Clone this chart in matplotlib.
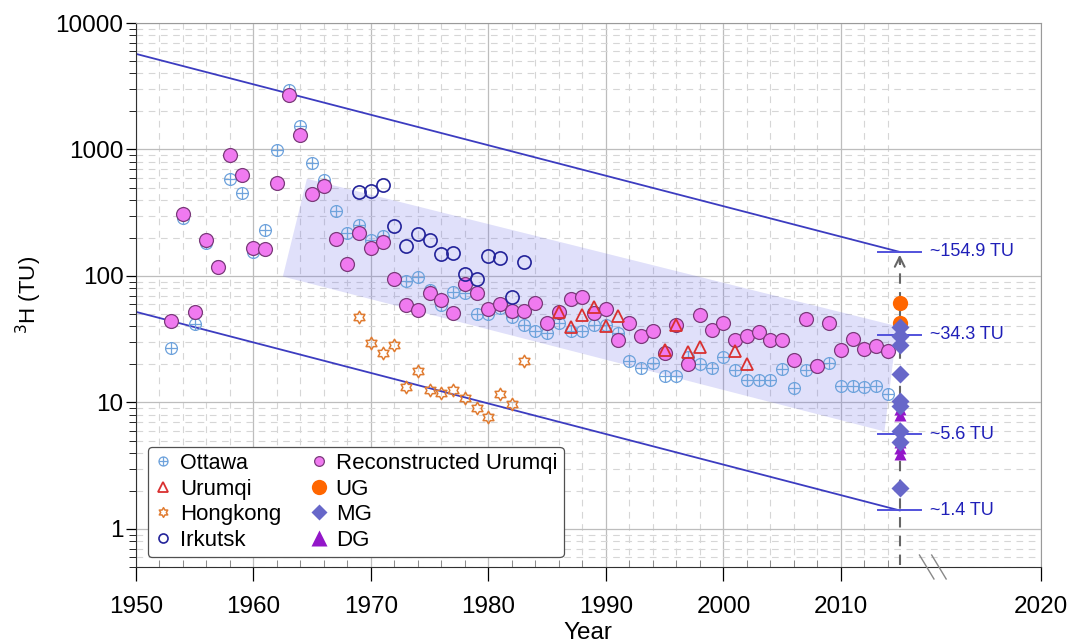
import matplotlib
matplotlib.use("Agg")
import matplotlib.pyplot as plt
from matplotlib.path import Path
from matplotlib.lines import Line2D
from matplotlib.patches import Polygon
from matplotlib.ticker import LogLocator, FixedLocator, NullFormatter

plt.rcParams['font.family'] = ['Liberation Sans', 'DejaVu Sans']

# ---------------- data ----------------
ottawa_years = [1953, 1954, 1955, 1956, 1957, 1958, 1959, 1960, 1961, 1962, 1963, 1964, 1965,
                1966, 1967, 1968, 1969, 1970, 1971, 1972, 1973, 1974, 1975, 1976, 1977, 1978,
                1979, 1980, 1981, 1982, 1983, 1984, 1985, 1986, 1987, 1988, 1989, 1990, 1991,
                1992, 1993, 1994, 1995, 1996, 1997, 1998, 1999, 2000, 2001, 2002, 2003, 2004,
                2005, 2006, 2007, 2008, 2009, 2010, 2011, 2012, 2013, 2014]
ottawa_tu = [27, 285, 42, 182, 120, 587, 453, 155, 230, 995, 2960, 1530, 781,
             569, 327, 219, 255, 194, 208, 95, 92, 98, 77, 59, 75, 74,
             50, 50, 56, 47, 40.6, 36.6, 35.6, 42.6, 37, 37, 41, 41, 35.6,
             21.2, 18.8, 20.4, 16.1, 16.3, 23, 20, 18.6, 22.8, 18, 15, 15, 15,
             18.5, 12.9, 18.2, 19.6, 20.6, 13.6, 13.5, 13.3, 13.4, 11.7]

recon_years = ottawa_years
recon_tu = [44, 307, 52, 194, 117, 897, 623, 166, 163, 543, 2700, 1290, 447,
            510, 197, 125, 219, 166, 185, 94, 59, 54, 73, 65, 51, 87,
            73, 55, 60, 53, 53, 61, 42.6, 52, 66, 68, 51, 55, 31,
            42.6, 33.4, 37, 24.7, 41.3, 20, 48.7, 37.3, 42.6, 31, 33.4, 36.2, 31,
            31, 21.6, 45.9, 19.4, 42.6, 26.2, 31.9, 26.5, 27.9, 25.5]

urumqi_years = [1986, 1987, 1988, 1989, 1990, 1991, 1995, 1996, 1997, 1998, 2001, 2002]
urumqi_tu = [51.7, 39.4, 49, 56.6, 40, 48, 26.2, 41, 25, 27.4, 25.5, 20.2]

irkutsk_years = [1969, 1970, 1971, 1972, 1973, 1974, 1975, 1976, 1977, 1978, 1979, 1980,
                 1981, 1982, 1983]
irkutsk_tu = [458, 467, 520, 247, 174, 216, 191, 150, 151, 104, 94, 143, 138, 68, 128]

hongkong_years = [1969, 1970, 1971, 1972, 1973, 1974, 1975, 1976, 1977, 1978, 1979, 1980,
                  1981, 1982, 1983]
hongkong_tu = [47.5, 29.6, 24.7, 28.4, 13.3, 17.7, 12.5, 11.8, 12.5, 10.9, 9.0, 7.7,
               11.6, 9.8, 21.2]

sample_year = 2015
ug_tu = [60.6, 42.7]
mg_tu = [39.6, 33.4, 28.5, 16.7, 10.3, 9.3, 6.0, 4.9, 2.1]
dg_tu = [8.8, 7.9, 4.9, 4.4, 3.9]

# decay lines (start year/value, end year/value)
decay_upper_years = [1950, 2015]
decay_upper_tu = [5700, 154.9]
decay_lower_years = [1950, 2015]
decay_lower_tu = [52, 1.4]

# shaded band corners
band_years = [1964.55, 2014.8, 2013.7, 1962.5]
band_tu = [587, 40, 5.9, 99]

ref_levels = [154.9, 34.3, 5.6, 1.4]
ref_labels = ['~154.9 TU', '~34.3 TU', '~5.6 TU', '~1.4 TU']

xtick_labels = ['1950', '1960', '1970', '1980', '1990', '2000', '2010', '2020']

# ---------------- styles ----------------
c_ott = '#6fa3dc'
c_uru = '#d93030'
c_hk = '#e07b30'
c_irk = '#23239a'
c_rec_face = '#f07af0'
c_rec_edge = '#7a3a7a'
c_ug = '#ff6600'
c_mg = '#6767c9'
c_dg = '#9316c9'
c_line = '#3c3cc0'
c_ann = '#1f1fb8'

circ = Path.unit_circle()
oplus = Path(list(circ.vertices) + [(-1, 0), (1, 0), (0, -1), (0, 1)],
             list(circ.codes) + [Path.MOVETO, Path.LINETO, Path.MOVETO, Path.LINETO])
hexagram = Path.unit_regular_star(6, 0.577)

fig = plt.figure(figsize=(10.74, 6.44), dpi=100)
ax = fig.add_axes([136 / 1074, 77 / 644, 904.7 / 1074, 544 / 644])
ax.set_yscale('log')
x_right = 2027.0
ax.set_xlim(1950, x_right)
ax.set_ylim(0.5, 10000)

# grids
ax.set_xticks([1950, 1960, 1970, 1980, 1990, 2000, 2010, x_right])
ax.set_xticklabels(xtick_labels)
ax.xaxis.set_minor_locator(FixedLocator(list(range(1952, 2015, 2))))
ax.yaxis.set_minor_locator(LogLocator(base=10, subs=range(2, 10), numticks=20))
ax.yaxis.set_minor_formatter(NullFormatter())
ax.set_yticks([1, 10, 100, 1000, 10000])
ax.set_yticklabels(['1', '10', '100', '1000', '10000'])
ax.grid(which='major', color='#bdbdbd', lw=0.9, ls='-')
ax.grid(which='minor', color='#d6d6d6', lw=0.8, ls=(0, (6, 5)))
ax.set_axisbelow(True)

ax.tick_params(axis='x', which='major', direction='out', length=10, width=0.9, labelsize=17.5, pad=11)
ax.tick_params(axis='x', which='minor', direction='in', length=5, width=0.6, color='#808080')
ax.tick_params(axis='y', which='major', direction='out', length=7, width=0.9, labelsize=17.5, pad=2)
ax.tick_params(axis='y', which='minor', direction='out', length=5, width=0.6)
for s in ['top', 'right']:
    ax.spines[s].set_color('#9a9a9a')
for s in ['left', 'bottom']:
    ax.spines[s].set_color('#303030')

# band
ax.add_patch(Polygon(list(zip(band_years, band_tu)), closed=True,
                     facecolor='#6464e6', alpha=0.2, edgecolor='none', zorder=1))

# decay lines
ax.plot(decay_upper_years, decay_upper_tu, color=c_line, lw=1.3, zorder=2)
ax.plot(decay_lower_years, decay_lower_tu, color=c_line, lw=1.3, zorder=2)

# vertical dashed arrow
ax.plot([sample_year, sample_year], [0.52, 140], color='#666666', lw=1.5,
        ls=(0, (5, 4)), zorder=2)
ax.annotate('', xy=(sample_year, ref_levels[0]), xytext=(sample_year, 120),
            arrowprops=dict(arrowstyle='->,head_length=0.7,head_width=0.35',
                            color='#666666', lw=1.5), zorder=3)

# reference levels
for lev, lab in zip(ref_levels, ref_labels):
    ax.plot([sample_year - 1.85, sample_year + 1.85], [lev, lev], color='#5252dc', lw=1.4, zorder=3)
    ax.text(sample_year + 2.6, lev, lab, color=c_ann, fontsize=13, va='center', ha='left')

# data
ax.plot(ottawa_years, ottawa_tu, ls='none', marker=oplus, ms=8.5, mfc='none', mec=c_ott,
        mew=0.9, zorder=4)
ax.plot(recon_years, recon_tu, ls='none', marker='o', ms=10, mfc=c_rec_face, mec=c_rec_edge,
        mew=0.9, zorder=5)
ax.plot(urumqi_years, urumqi_tu, ls='none', marker='^', ms=8, mfc='none', mec=c_uru,
        mew=1.3, zorder=6)
ax.plot(hongkong_years, hongkong_tu, ls='none', marker=hexagram, ms=9, mfc='none', mec=c_hk,
        mew=1.1, zorder=6)
ax.plot(irkutsk_years, irkutsk_tu, ls='none', marker='o', ms=9.5, mfc='none', mec=c_irk,
        mew=1.2, zorder=6)
ax.plot([sample_year] * len(ug_tu), ug_tu, ls='none', marker='o', ms=11, mfc=c_ug, mec='none',
        zorder=7)
ax.plot([sample_year] * len(mg_tu), mg_tu, ls='none', marker='D', ms=9, mfc=c_mg, mec='none',
        zorder=7)
ax.plot([sample_year] * len(dg_tu), dg_tu, ls='none', marker='^', ms=9, mfc=c_dg, mec='none',
        zorder=6.5)

# axis break marks
for dx in (0.0, 0.0135):
    ax.plot([0.866 + dx, 0.882 + dx], [0.022, -0.022], transform=ax.transAxes,
            color='#888888', lw=1.0, clip_on=False, zorder=10)

ax.set_xlabel('Year', fontsize=17.5, labelpad=3)
ax.set_ylabel('$^{3}$H (TU)', fontsize=16, labelpad=8)

handles = [
    Line2D([], [], ls='none', marker=oplus, ms=6.5, mfc='none', mec=c_ott, mew=0.9),
    Line2D([], [], ls='none', marker='^', ms=6.5, mfc='none', mec=c_uru, mew=1.3),
    Line2D([], [], ls='none', marker=hexagram, ms=7, mfc='none', mec=c_hk, mew=1.1),
    Line2D([], [], ls='none', marker='o', ms=6.5, mfc='none', mec=c_irk, mew=1.2),
    Line2D([], [], ls='none', marker='o', ms=7, mfc=c_rec_face, mec=c_rec_edge, mew=0.9),
    Line2D([], [], ls='none', marker='o', ms=11, mfc=c_ug, mec='none'),
    Line2D([], [], ls='none', marker='D', ms=8.5, mfc=c_mg, mec='none'),
    Line2D([], [], ls='none', marker='^', ms=11, mfc=c_dg, mec='none'),
]
labels = ['Ottawa', 'Urumqi', 'Hongkong', 'Irkutsk', 'Reconstructed Urumqi', 'UG', 'MG', 'DG']
leg = ax.legend(handles, labels, ncol=2, loc='lower left', bbox_to_anchor=(0.013, 0.018),
                borderaxespad=0, fancybox=True, framealpha=1, edgecolor='#505050',
                fontsize=16, handletextpad=0.35, columnspacing=1.3, labelspacing=0.2,
                borderpad=0.3, handlelength=0.8)
leg.get_frame().set_linewidth(0.9)
leg.set_zorder(20)
for i, t in enumerate(leg.get_texts()):
    if i == 0:
        t.set_fontsize(15.5)

fig.savefig('out.png', dpi=100)
